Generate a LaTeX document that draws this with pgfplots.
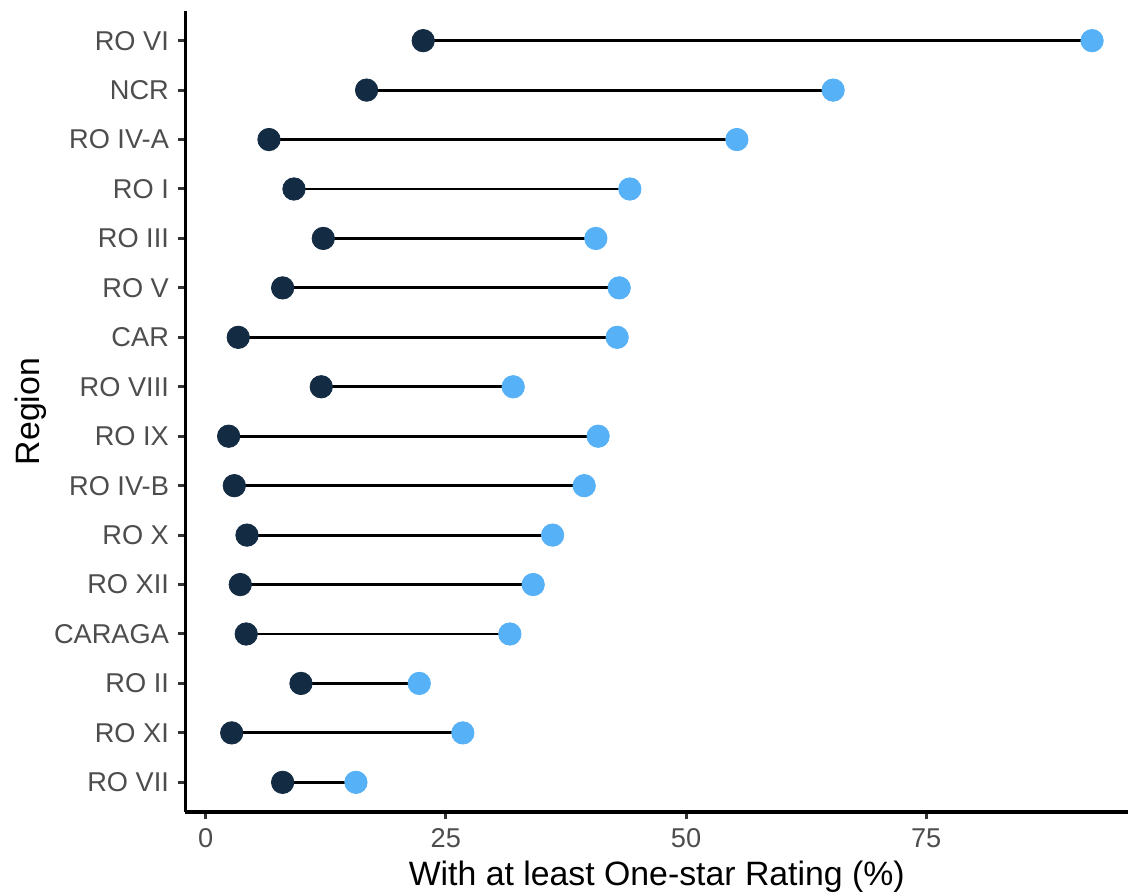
\documentclass[border=0pt]{standalone}
\usepackage{pgfplots}
\pgfplotsset{compat=1.18}
\usepackage{fontspec}
\setmainfont{Liberation Sans}

\definecolor{lowcol}{HTML}{132B43}
\definecolor{highcol}{HTML}{56B1F7}
\definecolor{ticktext}{HTML}{4D4D4D}
\definecolor{tickcol}{HTML}{333333}

\begin{document}
\begin{tikzpicture}
\begin{axis}[
  at={(0,0)}, anchor=south west,
  scale only axis, width=471.25bp, height=400.5bp,
  xmin=-2.1, xmax=96, ymin=0.4, ymax=16.6,
  axis x line*=bottom, axis y line*=left,
  axis line style={-, line width=1.6bp, black},
  xtick={0,25,50,75}, ytick={1,...,16},
  yticklabels={RO VII,RO XI,RO II,CARAGA,RO XII,RO X,RO IV-B,RO IX,RO VIII,CAR,RO V,RO III,RO I,RO IV-A,NCR,RO VI},
  tick align=outside, major tick length=3.7bp,
  tick style={tickcol, line width=1.5bp},
  /pgf/number format/assume math mode=true,
  tick label style={font=\fontsize{13.6bp}{15bp}\selectfont, text=ticktext},
  xticklabel style={anchor=north, inner sep=0pt, yshift=-4.6bp},
  yticklabel style={anchor=east, inner sep=0pt, xshift=-4.4bp},
  xlabel={With at least One-star Rating (\%)},
  ylabel={Region},
  label style={font=\fontsize{16.9bp}{19bp}\selectfont, inner sep=0pt},
  xlabel style={at={(axis description cs:0.5,-0.09238)}, anchor=base},
  ylabel style={at={(axis description cs:-0.15438,0.5)}, anchor=base},
  clip=false,
]
% segments first, then the two end points of each region
\addplot[black, line width=1.4bp, empty line=jump,
  scatter, scatter src=explicit symbolic,
  scatter/classes={
    a={mark=*, mark size=5.6bp, draw=lowcol, fill=lowcol, line width=0.4bp},
    b={mark=*, mark size=5.6bp, draw=highcol, fill=highcol, line width=0.4bp}}]
  table[x=x, y=y, meta=c] {
x y c
22.64 16 a
92.26 16 b

16.75 15 a
65.31 15 b

6.59 14 a
55.29 14 b

9.19 13 a
44.15 13 b

12.24 12 a
40.61 12 b

8.01 11 a
43.04 11 b

3.39 10 a
42.83 10 b

12.03 9 a
32.01 9 b

2.39 8 a
40.85 8 b

2.98 7 a
39.40 7 b

4.30 6 a
36.11 6 b

3.60 5 a
34.09 5 b

4.22 4 a
31.66 4 b

9.92 3 a
22.23 3 b

2.71 2 a
26.77 2 b

8.01 1 a
15.64 1 b
};
\end{axis}
\pgfresetboundingbox
\path[use as bounding box] (-92.75bp,-40bp) rectangle (471.25bp,406bp);
\end{tikzpicture}
\end{document}
